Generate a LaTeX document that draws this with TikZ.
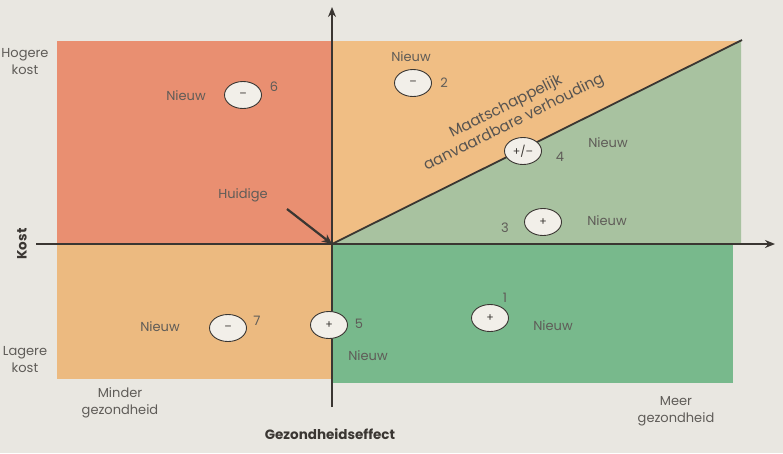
\documentclass[tikz,border=0pt]{standalone}
\usepackage{fontspec}
\setmainfont{Poppins}
\usetikzlibrary{shapes.geometric,arrows.meta}
\definecolor{paper}{RGB}{233,231,225}
\definecolor{redq}{RGB}{233,143,113}
\definecolor{orangeq}{RGB}{240,190,132}
\definecolor{orangelow}{RGB}{236,186,128}
\definecolor{sage}{RGB}{168,194,160}
\definecolor{greenq}{RGB}{120,185,140}
\definecolor{txt}{RGB}{95,92,88}
\definecolor{axis}{RGB}{58,54,50}
\definecolor{ellfill}{RGB}{242,239,233}
\tikzset{
  lbl/.style={font=\fontsize{13}{16}\selectfont, text=txt, inner sep=1pt},
  lbltwo/.style={lbl, align=center, font=\fontsize{13}{17}\selectfont},
  num/.style={font=\fontsize{13}{15}\selectfont, text=txt, inner sep=1pt},
  badge/.style={ellipse, draw=axis, line width=0.9pt, fill=ellfill, minimum width=37pt, minimum height=27pt, inner sep=0pt, font=\fontsize{11}{12}\selectfont, text=axis},
  axisline/.style={draw=axis, line width=1.8pt},
  boldlbl/.style={font=\fontseries{sb}\selectfont\fontsize{13.5}{15}\selectfont, text=axis, inner sep=1pt}
}
\begin{document}
\begin{tikzpicture}[x=1pt,y=-1pt]
\useasboundingbox (0,0) rectangle (783,453);
\fill[paper] (0,0) rectangle (783,453);
% quadrants
\fill[redq] (57,41) rectangle (332,244);
\fill[orangeq] (332,41) rectangle (741,244);
\fill[sage] (332,244) -- (741,41) -- (741,244) -- cycle;
\fill[orangelow] (57,244) rectangle (332,379);
\fill[greenq] (332,244) rectangle (733,383);
% coordinates
\coordinate (O) at (332,244);
\coordinate (xl) at (36,244);
\coordinate (xr) at (775,244);
\coordinate (yt) at (332,7);
\coordinate (yb) at (332,407);
\coordinate (corner) at (742,40);
% axes
\draw[axisline, -{Stealth[length=10pt,width=8pt]}] (xl) -- (xr);
\draw[axisline, -{Stealth[length=10pt,width=8pt]}] (yb) -- (yt);
\draw[axisline] (O) -- (corner);
% axis labels
\node[lbltwo] (hog) at (25,62) {Hogere\\kost};
\node[lbltwo] (lag) at (25,360) {Lagere\\kost};
\node[boldlbl, rotate=90] (kost) at (22,244) {Kost};
\node[lbltwo] (mind) at (120,403) {Minder\\gezondheid};
\node[lbltwo] (meer) at (676,411) {Meer\\gezondheid};
\node[boldlbl] (gez) at (330,434) {Gezondheidseffect};
% diagonal label
\node[lbltwo, rotate=26.5, text=axis!85!white, font=\fontsize{15}{18}\selectfont] (diag) at (510,115) {Maatschappelijk\\aanvaardbare verhouding};
% item 6
\node[lbl] (n6) at (186,96) {Nieuw};
\node[badge] (b6) at (243,95) {–};
\node[num] (t6) at (274,87) {6};
% Huidige
\node[lbl] (hui) at (243,195) {Huidige};
\coordinate (hs) at (287,209);
\draw[draw=axis, line width=2.2pt, -{Stealth[length=10pt,width=9pt]}] (hs) -- (O);
% item 2
\node[lbl] (n2) at (411,57) {Nieuw};
\node[badge] (b2) at (413,83) {–};
\node[num] (t2) at (444,83) {2};
% item 4
\node[badge] (b4) at (523,151) {+/–};
\node[num] (t4) at (560,157) {4};
\node[lbl] (n4) at (608,143) {Nieuw};
% item 3
\node[num] (t3) at (505,228) {3};
\node[badge] (b3) at (543,222) {+};
\node[lbl] (n3) at (607,221) {Nieuw};
% item 1
\node[num] (t1) at (505,298) {1};
\node[badge] (b1) at (490,318) {+};
\node[lbl] (n1) at (553,326) {Nieuw};
% item 7
\node[lbl] (n7) at (160,327) {Nieuw};
\node[badge] (b7) at (228,328) {–};
\node[num] (t7) at (257,321) {7};
% item 5
\node[badge] (b5) at (329,325) {+};
\node[num] (t5) at (359,324) {5};
\node[lbl] (n5) at (368,356) {Nieuw};
\end{tikzpicture}
\end{document}
